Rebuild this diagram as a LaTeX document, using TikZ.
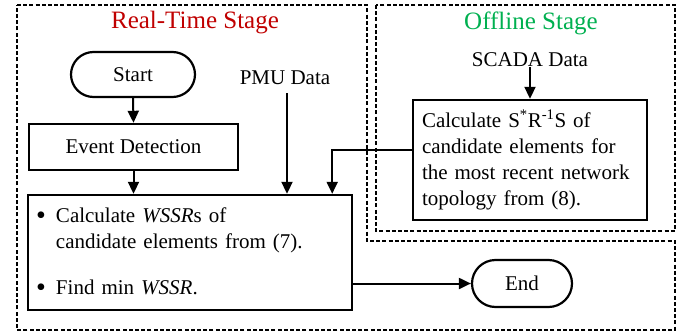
\documentclass[tikz,border=0pt]{standalone}
\usepackage{fontspec}
\setmainfont{Liberation Serif}
\usetikzlibrary{arrows.meta,shapes.misc}
\definecolor{rtred}{RGB}{192,0,0}
\definecolor{offgreen}{RGB}{0,176,80}
\newcommand{\bigbul}{\makebox[20pt][l]{\raisebox{-2pt}{\fontsize{28}{28}\selectfont\textbullet}}}
\begin{document}
\begin{tikzpicture}[x=1pt,y=-1pt,
  every node/.style={font=\fontsize{21}{26}\selectfont, inner sep=0pt},
  box/.style={draw, line width=2.4pt, rectangle},
  term/.style={draw, line width=2.2pt, rounded rectangle, rounded rectangle arc length=180},
  conn/.style={line width=2pt, -{Triangle[length=12pt,width=11pt]}},
  region/.style={line width=2.2pt, dash pattern=on 4pt off 2.2pt, line join=miter},
  title/.style={font=\fontsize{25}{30}\selectfont}]
\useasboundingbox (0,0) rectangle (694,335);

% stage regions
\draw[region] (17,5) -- (367,5) -- (367,241) -- (675,241) -- (675,330) -- (17,330) -- cycle;
\draw[region] (376,5) rectangle (675,231);

% titles
\node[title, text=rtred] (rttitle) at (195,23) {Real-Time Stage};
\node[title, text=offgreen] (offtitle) at (531,23) {Offline Stage};

% nodes
\node[term, minimum width=124pt, minimum height=45pt] (start) at (133,74.5) {Start};
\node[box, minimum width=209pt, minimum height=46pt] (ed) at (133.5,147) {Event Detection};
\node (pmu) at (285,78) {PMU Data};
\node[box, minimum width=324pt, minimum height=115pt, text width=308pt, inner xsep=8pt, align=left] (main) at (190,252.5)
  {\bigbul Calculate \textit{WSSR}s of\\\hspace*{20pt}candidate elements from (7).\\[20pt]\bigbul Find min \textit{WSSR}.};
\node (scada) at (530,60) {SCADA Data};
\node[box, minimum width=234pt, minimum height=120pt, text width=216pt, inner xsep=9pt, align=left] (calc) at (530,160)
  {Calculate S\textsuperscript{*}R\textsuperscript{-1}S of\\candidate elements for\\the most recent network\\topology from (8).};
\node[term, minimum width=100pt, minimum height=47pt] (end) at (522,283.5) {End};

% connectors
\draw[conn] (start.south) -- (ed.north);
\draw[conn] (ed.south) -- (ed.south |- main.north);
\draw[conn] ([xshift=2pt,yshift=-8pt]pmu.south) -- ([xshift=2pt]pmu.south |- main.north);
\draw[conn] ([yshift=10pt]calc.west) -| ([xshift=-21pt]main.north east);
\draw[conn] (scada.south) -- (calc.north);
\draw[conn] (end.west -| main.east) -- (end.west);
\end{tikzpicture}
\end{document}
